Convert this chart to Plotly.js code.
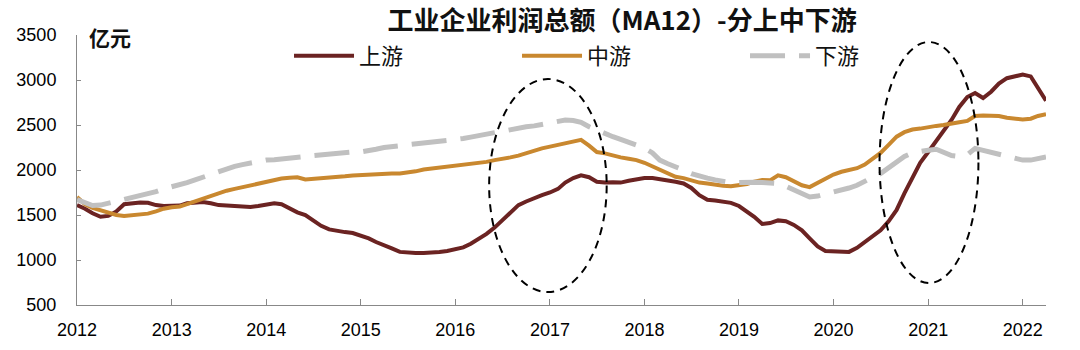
<!DOCTYPE html>
<html>
<head>
<meta charset="utf-8">
<script src="https://cdn.plot.ly/plotly-3.0.1.min.js"></script>
<style>html,body{margin:0;padding:0;background:#fff;}#chart{width:1080px;height:350px;}</style>
</head>
<body>
<div id="chart"></div>
<script>
// ---- data (monthly, Jan 2012 – Apr 2022), unit: 亿元 ----
const startYear = 2012;
const seriesNames = ['上游', '中游', '下游'];
const upstream = [
  1610,1570,1520,1480,1490,1540,1620,1635,1640,1635,1610,1600,
  1600,1605,1630,1640,1645,1630,1610,1605,1600,1595,1590,1600,
  1620,1630,1620,1570,1530,1500,1440,1380,1340,1320,1310,1300,
  1270,1240,1200,1170,1130,1090,1080,1078,1078,1080,1090,1100,
  1115,1140,1180,1230,1290,1360,1440,1530,1610,1650,1690,1720,
  1750,1790,1860,1910,1940,1920,1870,1860,1865,1860,1880,1900,
  1910,1910,1900,1890,1870,1850,1800,1720,1670,1660,1650,1635,
  1600,1540,1480,1400,1410,1440,1430,1390,1330,1240,1150,1100,
  1095,1100,1090,1135,1200,1270,1330,1430,1556,1740,1920,2080,
  2200,2320,2440,2556,2700,2811,2856,2800,2870,2960,3020,3040,
  3060,3040,2920,2770
];
const midstream = [
  1700,1620,1580,1550,1530,1500,1490,1495,1505,1515,1540,1570,
  1585,1595,1620,1650,1680,1710,1745,1770,1790,1810,1830,1850,
  1875,1890,1905,1915,1920,1895,1900,1910,1920,1925,1930,1940,
  1945,1950,1960,1965,1960,1962,1970,1985,2005,2015,2025,2040,
  2050,2060,2060,2075,2090,2110,2120,2140,2160,2190,2215,2240,
  2260,2280,2300,2320,2335,2270,2200,2185,2160,2140,2125,2110,
  2080,2040,2000,1960,1925,1910,1880,1860,1850,1835,1825,1820,
  1830,1845,1870,1890,1885,1940,1920,1870,1830,1810,1860,1910,
  1950,1980,2000,2020,2060,2130,2190,2280,2370,2420,2450,2460,
  2480,2490,2500,2520,2530,2545,2600,2605,2600,2600,2580,2570,
  2560,2570,2600,2620
];
const downstream = [
  1670,1630,1605,1610,1630,1650,1680,1700,1720,1740,1760,1790,
  1810,1830,1860,1890,1920,1960,1990,2020,2040,2060,2080,2100,
  2110,2115,2120,2130,2140,2150,2160,2170,2180,2190,2195,2200,
  2200,2210,2230,2250,2260,2270,2280,2285,2295,2305,2310,2320,
  2330,2350,2365,2385,2405,2415,2430,2450,2465,2480,2490,2505,
  2515,2540,2555,2550,2530,2480,2440,2400,2370,2340,2310,2270,
  2245,2190,2110,2070,2040,2000,1960,1930,1910,1890,1870,1860,
  1860,1865,1865,1860,1860,1850,1820,1780,1740,1700,1710,1730,
  1750,1770,1800,1830,1880,1920,1960,2020,2080,2150,2190,2210,
  2220,2230,2200,2160,2150,2170,2240,2220,2190,2170,2150,2130,
  2110,2110,2130,2145
];
const yTicks = [500,1000,1500,2000,2500,3000,3500];
const highlightPeriods = [
  {x0:'2016-05-11', x1:'2017-08-08', y0:644, y1:3011},
  {x0:'2020-06-27', x1:'2021-07-14', y0:744, y1:3422}
];

// month dates
const months = upstream.map((_, i) => {
  const y = startYear + Math.floor(i / 12);
  const m = (i % 12) + 1;
  return y + '-' + String(m).padStart(2, '0') + '-01';
});

const FONT = 'Liberation Sans, Arial, sans-serif';
const CJK = 'Noto Sans CJK SC, sans-serif';

const traces = [
  {x: months, y: upstream, name: seriesNames[0], type: 'scatter', mode: 'lines',
   line: {color: '#6B2322', width: 4}},
  {x: months, y: midstream, name: seriesNames[1], type: 'scatter', mode: 'lines',
   line: {color: '#C9882F', width: 4}},
  {x: months, y: downstream, name: seriesNames[2], type: 'scatter', mode: 'lines',
   line: {color: '#C0C0C0', width: 5, dash: '35px,14px'}}
];

const layout = {
  width: 1080, height: 350,
  margin: {l: 77, r: 34, t: 35, b: 45},
  paper_bgcolor: '#fff', plot_bgcolor: '#fff',
  font: {family: FONT, size: 18, color: '#000'},
  title: {text: '工业企业利润总额（MA12）-分上中下游', x: 0.576, xanchor: 'center',
          y: 0.94, yanchor: 'middle', yref: 'container',
          font: {family: CJK, size: 26, weight: 700, color: '#111'}},
  showlegend: true,
  legend: {orientation: 'h', x: 0.2188, y: 0.922, xanchor: 'left', yanchor: 'middle',
           xref: 'paper', yref: 'paper',
           itemwidth: 60, entrywidth: 153, font: {family: CJK, size: 22, color: '#111'},
           bgcolor: 'rgba(0,0,0,0)', traceorder: 'normal'},
  xaxis: {type: 'date', range: ['2012-01-01', '2022-04-01'],
          tick0: '2012-01-01', dtick: 'M12', tickformat: '%Y',
          ticks: 'inside', ticklen: 6, tickcolor: '#888', tickwidth: 1,
          showline: true, linecolor: '#888', linewidth: 1, mirror: false,
          showgrid: false, zeroline: false, ticklabelstandoff: 8,
          tickfont: {family: FONT, size: 18, color: '#000'}},
  yaxis: {range: [500, 3500], tickvals: yTicks, ticktext: yTicks.map(String),
          ticks: 'inside', ticklen: 4, tickcolor: '#888', tickwidth: 1,
          showline: true, linecolor: '#888', linewidth: 1,
          showgrid: false, zeroline: false, ticklabelstandoff: 16,
          tickfont: {family: FONT, size: 18, color: '#000'}},
  shapes: highlightPeriods.map(p => ({type: 'circle', xref: 'x', yref: 'y',
          x0: p.x0, x1: p.x1, y0: p.y0, y1: p.y1,
          line: {color: '#000', width: 2, dash: '8px,6px'}, layer: 'above'})),
  annotations: [
    {text: '亿元', xref: 'paper', yref: 'paper', x: 0.01, y: 0.993, xanchor: 'left', yanchor: 'middle',
     showarrow: false, font: {family: CJK, size: 21, weight: 700, color: '#111'}}
  ]
};

Plotly.newPlot('chart', traces, layout, {displayModeBar: false, staticPlot: true});
</script>
</body>
</html>
